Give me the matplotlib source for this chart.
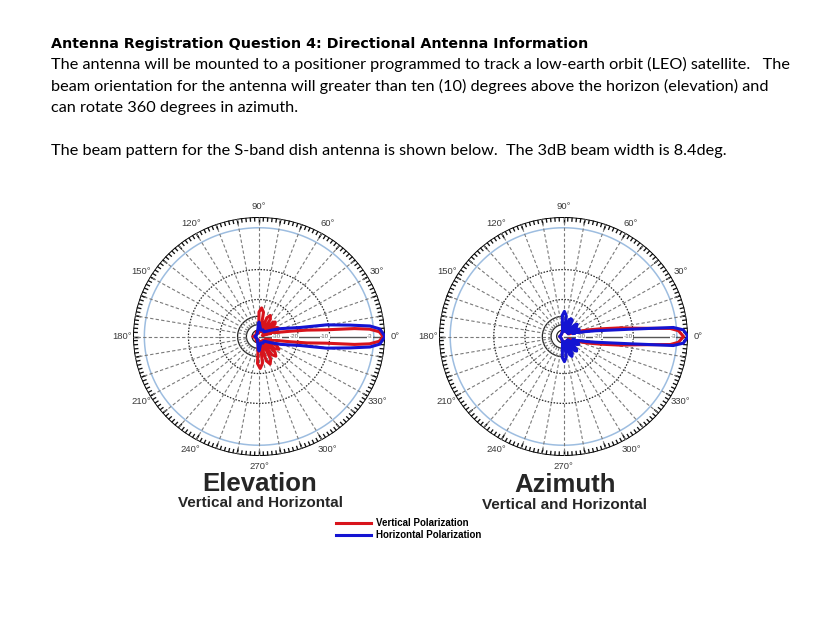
import numpy as np
import matplotlib.pyplot as plt

W, H = 835, 619

# radial scale of the printed pattern: dB -> fraction of the outer ring
ring_db = [-60, -50, -40, -30, -20, -10, -3, 0]
ring_r = [0.0, 0.055, 0.10, 0.17, 0.31, 0.56, 0.91, 1.0]

# elevation cut, vertical polarization (red)
el_v_ang = [-180, -150, -120, -100, -93, -88, -83, -79, -74, -69, -64, -60, -56, -51, -46,
            -43, -39, -34, -29, -24, -16, -13, -10, -8, -6, -5, -4, -2.4, 0,
            2.4, 4, 5, 6, 8, 10, 13, 16, 19, 21, 25, 29, 34, 39, 43, 47, 53, 58, 63, 68,
            74, 80, 85, 90, 95, 120, 150, 180]
el_v_db = [-52, -55, -52, -55, -26, -23, -26, -52, -27, -24.5, -27, -52, -29, -27, -29,
           -52, -31, -28.5, -31, -50, -40, -32, -24, -17, -11, -6, -3.6, -1.5, -0.5,
           -1.5, -3.6, -6, -11, -17, -24, -32, -45, -55, -32, -30, -32, -52, -31, -29.5, -31,
           -52, -30, -28, -30, -52, -27.5, -25, -27.5, -55, -52, -55, -52]

# elevation cut, horizontal polarization (blue)
el_h_ang = [-180, -120, -100, -93, -90, -87, -75, -60, -45, -35, -28, -21, -13, -10.3,
            -7.5, -5.7, -3.8, 0, 3.8, 5.7, 7.5, 10.3, 13, 21, 28, 35, 45, 60, 75,
            87, 90, 93, 100, 120, 180]
el_h_db = [-55, -55, -50, -40, -37, -40, -50, -48, -50, -45, -38, -29, -19, -10.6,
           -6.6, -3.5, -1.3, 0, -1.3, -3.5, -6.6, -10.6, -19, -29, -38, -45, -50, -48, -50,
           -40, -37, -40, -50, -55, -55]

# azimuth cut, vertical polarization (red)
az_v_ang = [-180, -120, -95, -90, -85, -70, -60, -50, -40, -30, -25, -20, -16, -12, -9,
            -6.5, -4.5, -3, 0, 3, 4.5, 6.5, 9, 12, 16, 20, 25, 30, 40, 50, 60, 70,
            85, 90, 95, 120, 180]
az_v_db = [-55, -55, -48, -40, -48, -52, -42, -52, -44, -52, -50, -38, -28, -20, -14,
           -9, -4, -2.5, -1.2, -2.5, -4, -9, -14, -20, -28, -38, -50, -52, -44, -52, -42, -52,
           -48, -40, -48, -55, -55]

# azimuth cut, horizontal polarization (blue)
az_h_ang = [-180, -120, -100, -93, -88, -83, -77, -72, -68, -64, -58, -53, -49, -45,
            -38, -32, -28, -24, -18, -14, -10.6, -6.6, -4.9, -3.3, 0,
            3.3, 4.9, 6.6, 10.6, 14, 18, 21, 25, 29, 34, 39, 43, 47, 55, 62, 67, 72,
            78, 83, 88, 93, 100, 120, 180]
az_h_db = [-55, -55, -52, -29.5, -27.1, -29.5, -52, -31.5, -29.3, -31.5, -52, -33, -31.4, -33,
           -52, -36, -34.3, -36, -45, -31, -23.6, -11.4, -3.5, -1.2, 0,
           -1.2, -3.5, -11.4, -23.6, -31, -45, -36, -34.3, -36, -52, -35, -32.9, -35, -52, -33, -31.4, -33,
           -52, -29.5, -27.1, -29.5, -52, -55, -55]

theta_ticks = list(range(0, 360, 30))
theta_labels = [f'{a}°' for a in theta_ticks]
r_labels = ['-30', '-20', '-10', '-3']
r_label_pos = [0.14, 0.28, 0.52, 0.88]

title = 'Antenna Registration Question 4: Directional Antenna Information'
body = [
    'The antenna will be mounted to a positioner programmed to track a low-earth orbit (LEO) satellite.   The',
    'beam orientation for the antenna will greater than ten (10) degrees above the horizon (elevation) and',
    'can rotate 360 degrees in azimuth.',
    '',
    'The beam pattern for the S-band dish antenna is shown below.  The 3dB beam width is 8.4deg.',
]

RED = '#d8141c'
BLUE = '#1414d2'


def db_to_r(d):
    return np.interp(d, ring_db, ring_r)


def r_to_db(r):
    return np.interp(r, ring_r, ring_db)


def px_rect(left, top, right, bottom):
    return [left / W, 1 - bottom / H, (right - left) / W, (bottom - top) / H]


fig = plt.figure(figsize=(W / 100, H / 100), dpi=100)


def pattern(rect, v_ang, v_db, h_ang, h_db):
    ax = fig.add_axes(rect, projection='polar')
    ax.set_yscale('function', functions=(db_to_r, r_to_db))
    ax.set_ylim(-60, 0)
    ax.set_aspect('auto')
    ax.grid(False)
    ax.set_yticks([])
    ax.spines['polar'].set_visible(False)
    ax.set_xticks(np.radians(theta_ticks))
    ax.set_xticklabels(theta_labels, family='Liberation Sans')
    ax.tick_params(axis='x', length=0, pad=0.5, labelsize=6.8, labelcolor='#3a3a3a')

    th = np.linspace(0, 2 * np.pi, 721)
    ax.plot(th, np.zeros_like(th), color='black', lw=1.4)
    ax.plot(th, np.full_like(th, -3), color='#9dbde0', lw=1.1)
    for d in (-10, -20):
        ax.plot(th, np.full_like(th, d), color='#222222', lw=0.9, ls=(0, (1.2, 1.2)))
    arc = np.linspace(np.pi / 2, 3 * np.pi / 2, 181)
    for d in (-30, -40, -50):
        ax.plot(arc, np.full_like(arc, d), color='#222222', lw=0.9)

    # rim ticks and dashed spokes
    ax.vlines(np.radians(np.arange(0, 360, 2)), r_to_db(0.962), 0, color='#111111', lw=0.95)
    ax.vlines(np.radians(np.arange(0, 360, 10)), r_to_db(0.95), 0, color='#111111', lw=0.95)
    ax.vlines(np.radians(np.arange(10, 360, 10)), -40, 0, color='#7a7a7a', lw=0.8,
              linestyles=(0, (3, 2)))
    ax.plot([0, 0], [-60, r_to_db(0.95)], color='#555555', lw=1.0)
    for lab, r in zip(r_labels, r_label_pos):
        ax.text(0, r_to_db(r), lab, fontsize=4.5, color='#666666', ha='center', va='center',
                family='Liberation Sans',
                bbox=dict(fc='white', ec='none', pad=0.3))

    lv, = ax.plot(np.radians(v_ang), v_db, color=RED, lw=2.2)
    lh, = ax.plot(np.radians(h_ang), h_db, color=BLUE, lw=2.2)
    return ax, lv, lh


ax1, lv, lh = pattern(px_rect(133, 217, 385, 456), el_v_ang, el_v_db, el_h_ang, el_h_db)
ax2, _, _ = pattern(px_rect(439, 217, 688, 456), az_v_ang, az_v_db, az_h_ang, az_h_db)

cap = dict(ha='center', va='baseline', weight='bold', color='#262626', family='Liberation Sans')
fig.text(260 / W, 1 - 491 / H, 'Elevation', fontsize=18.5, **cap)
fig.text(260 / W, 1 - 507 / H, 'Vertical and Horizontal', fontsize=11, **cap)
fig.text(565 / W, 1 - 492 / H, 'Azimuth', fontsize=18.5, **cap)
fig.text(565 / W, 1 - 509 / H, 'Vertical and Horizontal', fontsize=11, **cap)

fig.legend(handles=[lv, lh], labels=['Vertical Polarization', 'Horizontal Polarization'],
           loc='upper left', bbox_to_anchor=(336 / W, 1 - 518 / H), frameon=False,
           prop=dict(family='Liberation Sans', weight='bold', size=7),
           handlelength=3.6, handletextpad=0.5, labelspacing=0.2, borderpad=0,
           borderaxespad=0)

fig.text(51 / W, 1 - 48 / H, title, fontsize=10.3, weight='bold', family='DejaVu Sans',
         va='baseline')
for i, line in enumerate(body):
    fig.text(51 / W, 1 - (69 + 21.5 * i) / H, line, fontsize=11.7, family='Lato',
             va='baseline')

fig.savefig('out.png', dpi=100)
